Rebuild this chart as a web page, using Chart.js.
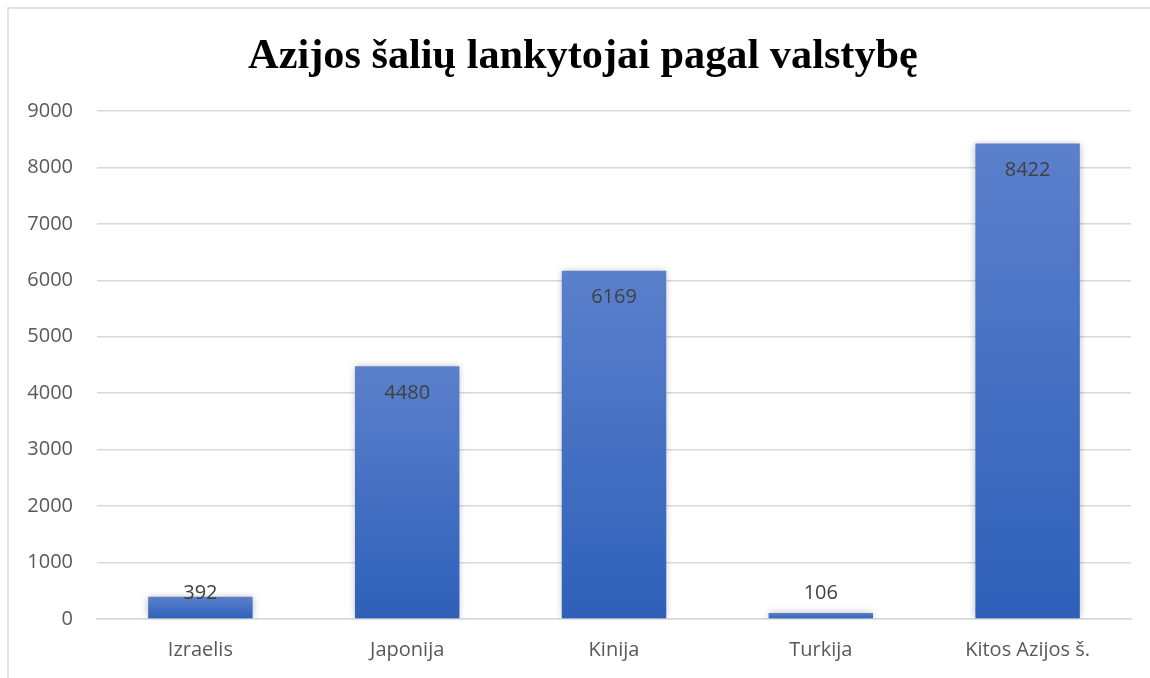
<!DOCTYPE html>
<html>
<head>
<meta charset="utf-8">
<script src="https://cdn.jsdelivr.net/npm/chart.js@4.4.1/dist/chart.umd.min.js"></script>
<style>
  html, body { margin: 0; padding: 0; background: #ffffff; }
  #wrap { width: 1150px; height: 678px; position: relative; }
</style>
</head>
<body>
<div id="wrap"><canvas id="c" width="1150" height="678"></canvas></div>
<script>
const titleText = 'Azijos šalių lankytojai pagal valstybę';
const categories = ['Izraelis', 'Japonija', 'Kinija', 'Turkija', 'Kitos Azijos š.'];
const visitors = [392, 4480, 6169, 106, 8422];
const yTicks = [0, 1000, 2000, 3000, 4000, 5000, 6000, 7000, 8000, 9000];

const frame = {
  id: 'frame',
  beforeDraw(chart) {
    const c = chart.ctx;
    c.save();
    c.fillStyle = '#ffffff';
    c.fillRect(0, 0, chart.width, chart.height);
    c.strokeStyle = '#d9d9d9';
    c.lineWidth = 1.5;
    c.beginPath();
    c.moveTo(8, chart.height);
    c.lineTo(8, 8);
    c.lineTo(chart.width, 8);
    c.stroke();
    c.restore();
  }
};

const titleDraw = {
  id: 'centredTitle',
  afterDraw(chart) {
    const c = chart.ctx;
    c.save();
    c.font = 'bold 42.3px "Liberation Serif", "Times New Roman", serif';
    c.fillStyle = '#000000';
    c.textAlign = 'center';
    c.textBaseline = 'middle';
    c.fillText(titleText, 583, 57);
    c.restore();
  }
};

const shadow = {
  id: 'barShadow',
  beforeDatasetsDraw(chart) {
    const c = chart.ctx;
    c.save();
    c.shadowColor = 'rgba(0,0,0,0.28)';
    c.shadowBlur = 7;
    c.shadowOffsetX = 0;
    c.shadowOffsetY = 0;
  },
  afterDatasetsDraw(chart) {
    chart.ctx.restore();
  }
};

const labels = {
  id: 'valueLabels',
  afterDatasetsDraw(chart) {
    const c = chart.ctx;
    const meta = chart.getDatasetMeta(0);
    c.save();
    c.font = '20px "Open Sans"';
    c.fillStyle = '#404040';
    c.textAlign = 'center';
    c.textBaseline = 'middle';
    meta.data.forEach((el, i) => {
      const y = Math.min(el.y + 27, el.base - 25);
      c.fillText(String(chart.data.datasets[0].data[i]), el.x, y);
    });
    c.restore();
  }
};

new Chart(document.getElementById('c'), {
  type: 'bar',
  data: {
    labels: categories,
    datasets: [{
      data: visitors,
      backgroundColor(ctx) {
        const chart = ctx.chart;
        const ys = chart.scales.y;
        if (!ys || ctx.raw === undefined) return '#4472c4';
        const top = ys.getPixelForValue(ctx.raw);
        const bot = ys.getPixelForValue(0);
        if (!isFinite(top) || !isFinite(bot) || top === bot) return '#4472c4';
        const g = chart.ctx.createLinearGradient(0, top, 0, bot);
        g.addColorStop(0, '#5b80cc');
        g.addColorStop(1, '#2e60b9');
        return g;
      },
      borderWidth: 0,
      categoryPercentage: 1,
      barPercentage: 0.505
    }]
  },
  options: {
    responsive: false,
    animation: false,
    devicePixelRatio: 1,
    layout: { padding: { left: 0, right: 19, top: 111, bottom: 0 } },
    plugins: {
      legend: { display: false },
      tooltip: { enabled: false },
      title: { display: false }
    },
    scales: {
      y: {
        min: 0,
        max: 9000,
        afterBuildTicks(scale) { scale.ticks = yTicks.map(v => ({ value: v })); },
        afterFit(scale) { scale.width = 97; },
        border: { display: false },
        grid: { color: '#d9d9d9', lineWidth: 1.5, drawTicks: false },
        ticks: {
          padding: 24,
          color: '#595959',
          font: { family: '"Open Sans"', size: 20 },
          callback: (v) => String(v)
        }
      },
      x: {
        afterFit(scale) { scale.height = 59; },
        border: { color: '#d9d9d9', width: 1.5 },
        grid: { display: false, drawTicks: false },
        ticks: {
          padding: 19,
          color: '#595959',
          font: { family: '"Open Sans"', size: 20 },
          maxRotation: 0
        }
      }
    }
  },
  plugins: [frame, titleDraw, shadow, labels]
});
</script>
</body>
</html>
